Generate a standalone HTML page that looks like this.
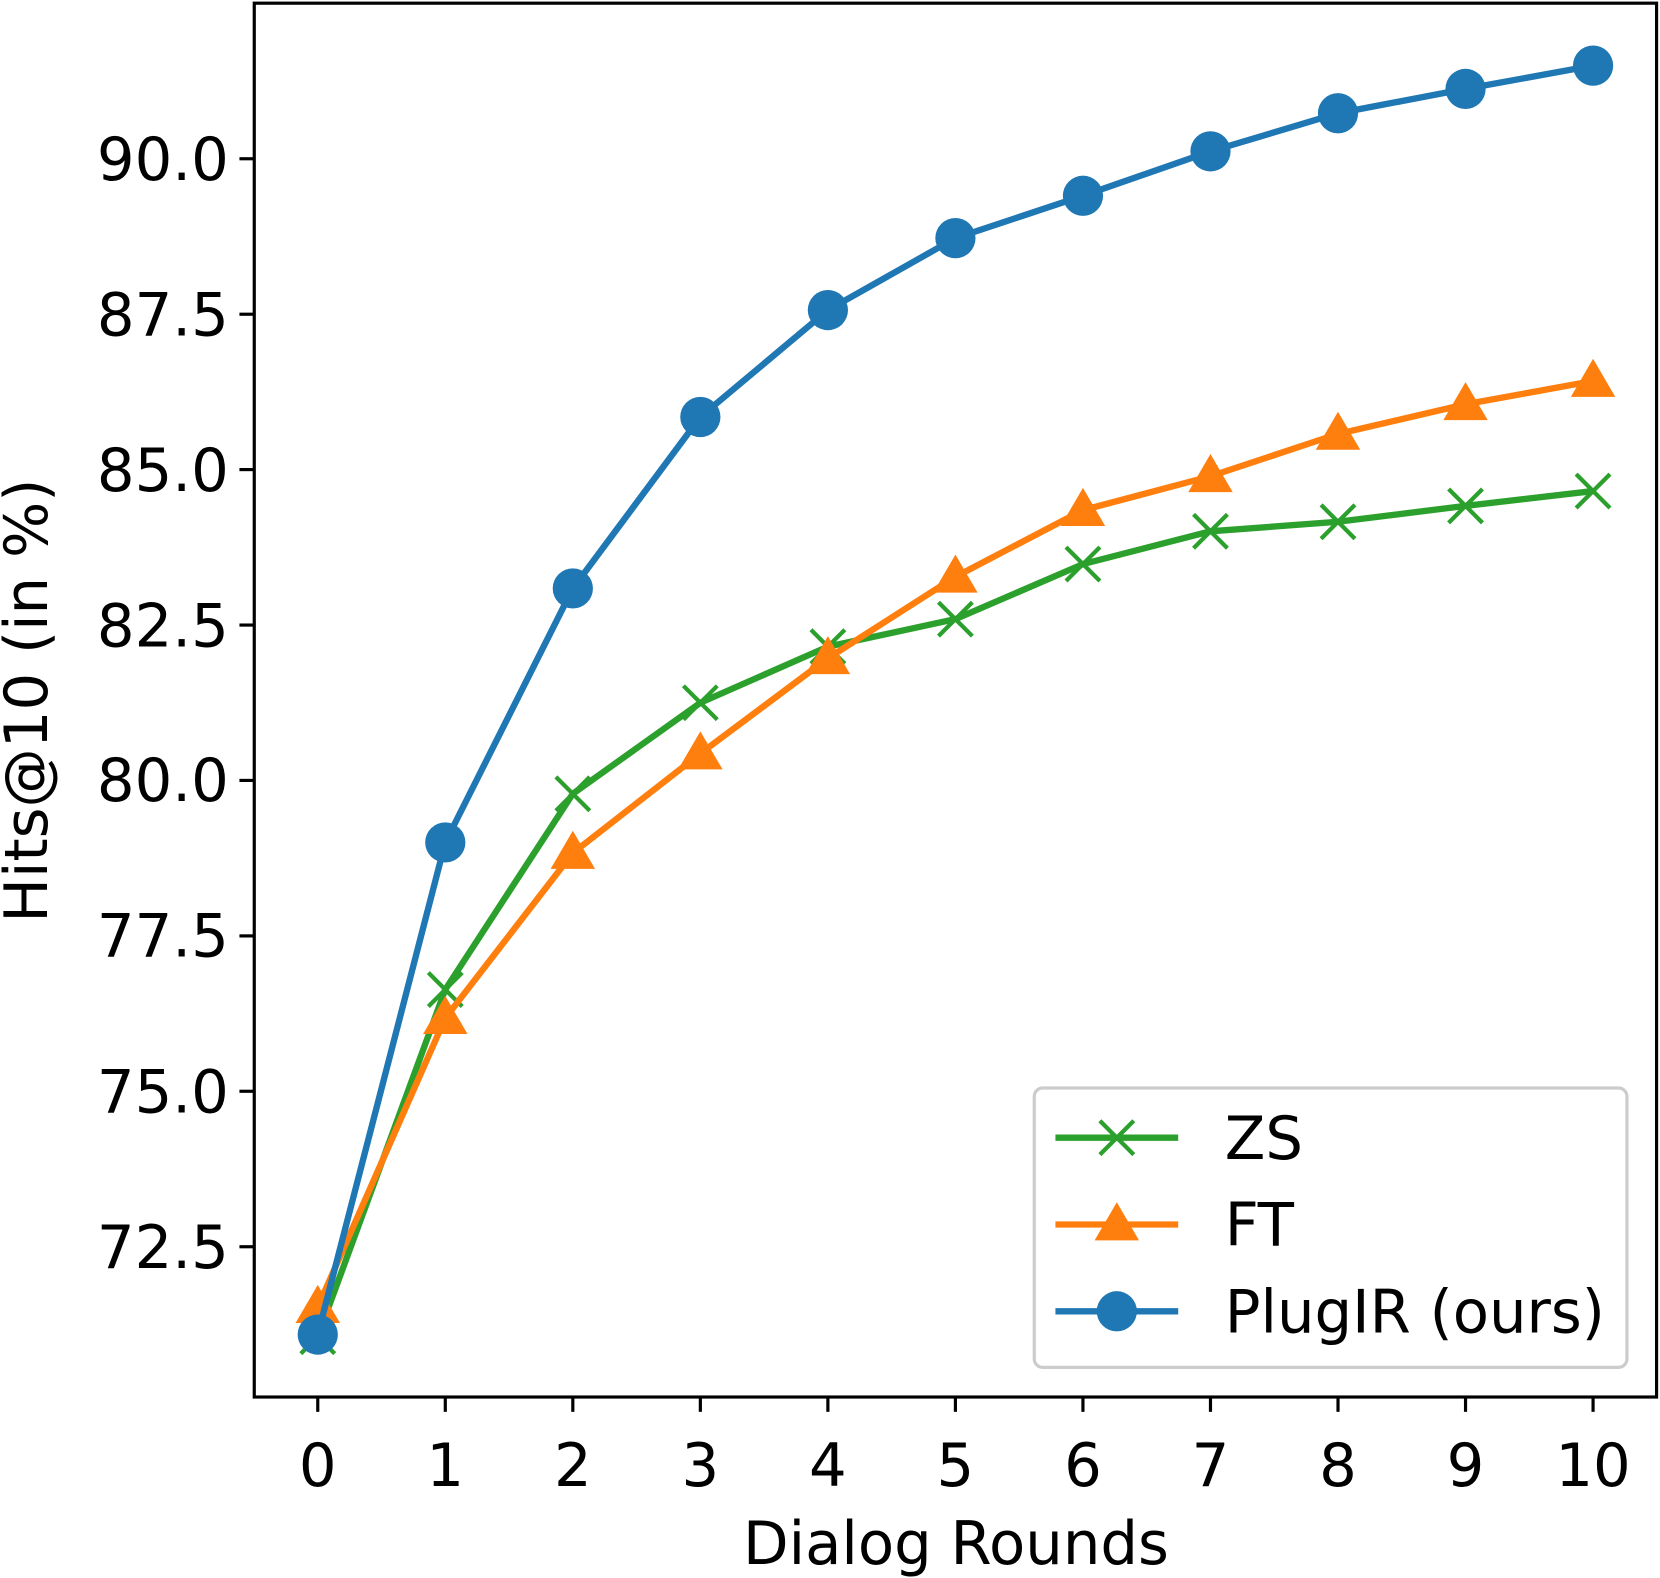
<!DOCTYPE html>
<html><head><style>html,body{margin:0;padding:0;background:#fff}svg{display:block}</style></head>
<body>
<svg width="1660" height="1578" viewBox="0 0 1568 1491" xmlns="http://www.w3.org/2000/svg" font-family="DejaVu Sans, Liberation Sans, sans-serif">
<rect width="1568" height="1491" fill="#fff"/>
<g stroke="#000" stroke-width="3">
<line x1="300" y1="1320" x2="300" y2="1334"/><line x1="420.5" y1="1320" x2="420.5" y2="1334"/><line x1="541" y1="1320" x2="541" y2="1334"/><line x1="661.5" y1="1320" x2="661.5" y2="1334"/><line x1="782" y1="1320" x2="782" y2="1334"/><line x1="902.5" y1="1320" x2="902.5" y2="1334"/><line x1="1023" y1="1320" x2="1023" y2="1334"/><line x1="1143.5" y1="1320" x2="1143.5" y2="1334"/><line x1="1264" y1="1320" x2="1264" y2="1334"/><line x1="1384.5" y1="1320" x2="1384.5" y2="1334"/><line x1="1505" y1="1320" x2="1505" y2="1334"/>
<line x1="226" y1="150" x2="240" y2="150"/><line x1="226" y1="296.9" x2="240" y2="296.9"/><line x1="226" y1="443.7" x2="240" y2="443.7"/><line x1="226" y1="590.6" x2="240" y2="590.6"/><line x1="226" y1="737.4" x2="240" y2="737.4"/><line x1="226" y1="884.3" x2="240" y2="884.3"/><line x1="226" y1="1031.1" x2="240" y2="1031.1"/><line x1="226" y1="1178" x2="240" y2="1178"/>
</g>
<g font-size="56" fill="#000" text-anchor="middle">
<text x="300" y="1404">0</text><text x="420.5" y="1404">1</text><text x="541" y="1404">2</text><text x="661.5" y="1404">3</text><text x="782" y="1404">4</text><text x="902.5" y="1404">5</text><text x="1023" y="1404">6</text><text x="1143.5" y="1404">7</text><text x="1264" y="1404">8</text><text x="1384.5" y="1404">9</text><text x="1505" y="1404">10</text>
<text x="903" y="1478">Dialog Rounds</text>
<text transform="translate(44,662) rotate(-90)">Hits@10 (in %)</text>
</g>
<g font-size="56" fill="#000" text-anchor="end">
<text x="216" y="170">90.0</text><text x="216" y="317">87.5</text><text x="216" y="464">85.0</text><text x="216" y="611">82.5</text><text x="216" y="757">80.0</text><text x="216" y="904">77.5</text><text x="216" y="1051">75.0</text><text x="216" y="1198">72.5</text>
</g>
<polyline fill="none" stroke="#2ca02c" stroke-width="6" points="300,1263 420.5,935 541,750 661.5,664 782,611 902.5,585 1023,533 1143.5,502 1264,493 1384.5,478 1505,464"/>
<g stroke="#2ca02c" stroke-width="4">
<path d="M284,1247l32,32M316,1247l-32,32"/><path d="M404.5,919l32,32M436.5,919l-32,32"/><path d="M525,734l32,32M557,734l-32,32"/><path d="M645.5,648l32,32M677.5,648l-32,32"/><path d="M766,595l32,32M798,595l-32,32"/><path d="M886.5,569l32,32M918.5,569l-32,32"/><path d="M1007,517l32,32M1039,517l-32,32"/><path d="M1127.5,486l32,32M1159.5,486l-32,32"/><path d="M1248,477l32,32M1280,477l-32,32"/><path d="M1368.5,462l32,32M1400.5,462l-32,32"/><path d="M1489,448l32,32M1521,448l-32,32"/>
</g>
<polyline fill="none" stroke="#ff7f0e" stroke-width="6" points="300,1235 420.5,962 541,806 661.5,712 782,622 902.5,545 1023,482 1143.5,450 1264,410 1384.5,382 1505,360"/>
<g fill="#ff7f0e">
<path d="M300,1214l21,36h-42z"/><path d="M420.5,941l21,36h-42z"/><path d="M541,785l21,36h-42z"/><path d="M661.5,691l21,36h-42z"/><path d="M782,601l21,36h-42z"/><path d="M902.5,524l21,36h-42z"/><path d="M1023,461l21,36h-42z"/><path d="M1143.5,429l21,36h-42z"/><path d="M1264,389l21,36h-42z"/><path d="M1384.5,361l21,36h-42z"/><path d="M1505,339l21,36h-42z"/>
</g>
<polyline fill="none" stroke="#1f77b4" stroke-width="6" points="300,1261 420.5,796 541,556 661.5,394 782,293 902.5,225 1023,185 1143.5,143 1264,107 1384.5,84 1505,62"/>
<g fill="#1f77b4">
<circle cx="300" cy="1261" r="19"/><circle cx="420.5" cy="796" r="19"/><circle cx="541" cy="556" r="19"/><circle cx="661.5" cy="394" r="19"/><circle cx="782" cy="293" r="19"/><circle cx="902.5" cy="225" r="19"/><circle cx="1023" cy="185" r="19"/><circle cx="1143.5" cy="143" r="19"/><circle cx="1264" cy="107" r="19"/><circle cx="1384.5" cy="84" r="19"/><circle cx="1505" cy="62" r="19"/>
</g>
<rect x="977" y="1028" width="560" height="264" rx="8" fill="#fff" fill-opacity="0.8" stroke="#ccc" stroke-width="3"/>
<line x1="997" y1="1075" x2="1113" y2="1075" stroke="#2ca02c" stroke-width="6"/>
<path d="M1039,1059l32,32M1071,1059l-32,32" stroke="#2ca02c" stroke-width="4"/>
<line x1="997" y1="1157" x2="1113" y2="1157" stroke="#ff7f0e" stroke-width="6"/>
<path d="M1055,1136l21,36h-42z" fill="#ff7f0e"/>
<line x1="997" y1="1239" x2="1113" y2="1239" stroke="#1f77b4" stroke-width="6"/>
<circle cx="1055" cy="1239" r="19" fill="#1f77b4"/>
<g font-size="56" fill="#000">
<text x="1157" y="1095">ZS</text><text x="1157" y="1177">FT</text><text x="1157" y="1259">PlugIR (ours)</text>
</g>
<rect x="240" y="3" width="1325" height="1317" fill="none" stroke="#000" stroke-width="3"/>
</svg>
</body></html>
